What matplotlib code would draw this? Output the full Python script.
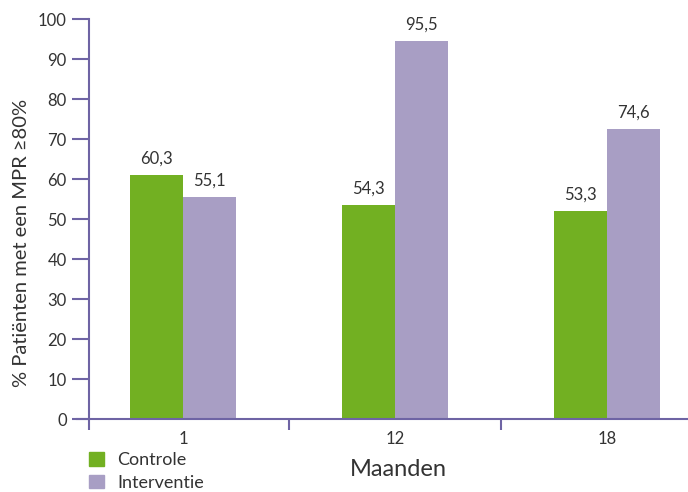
import matplotlib
matplotlib.use('Agg')
import matplotlib.pyplot as plt
from matplotlib.patches import Patch

months = ['1', '12', '18']
controle = [61.0, 53.5, 52.0]
interventie = [55.5, 94.5, 72.5]
controle_labels = ['60,3', '54,3', '53,3']
interventie_labels = ['55,1', '95,5', '74,6']
yticks = [0, 10, 20, 30, 40, 50, 60, 70, 80, 90, 100]

green = '#72b022'
purple = '#a89ec4'
axis_col = '#6e64a4'
text_col = '#333333'

plt.rcParams['font.family'] = ['Lato', 'DejaVu Sans']

fig = plt.figure(figsize=(6.88, 4.92), dpi=100)
ax = fig.add_axes([89 / 688, 73 / 492, 599 / 688, 400 / 492])

x = list(range(len(months)))
w = 0.25
b1 = ax.bar([i - w / 2 for i in x], controle, w, color=green)
b2 = ax.bar([i + w / 2 for i in x], interventie, w, color=purple)

for bars, labels in ((b1, controle_labels), (b2, interventie_labels)):
    for bar, lab in zip(bars, labels):
        ax.text(bar.get_x() + bar.get_width() / 2, bar.get_height() + 2.0, lab,
                ha='center', va='bottom', fontsize=12, color=text_col)

ax.set_xlim(-0.443, 2.382)
ax.set_ylim(0, 100)
ax.set_yticks(yticks)
ax.set_yticklabels([str(v) for v in yticks], fontsize=12, color=text_col)
ax.tick_params(axis='y', direction='out', length=12, width=1.5, color=axis_col, pad=4)

# category labels sit at bar centres, tick marks at group boundaries
ax.set_xticks([-0.443, 0.5, 1.5])
ax.set_xticklabels([])
ax.set_xticks(x, minor=True)
ax.set_xticklabels(months, minor=True, fontsize=12, color=text_col)
ax.tick_params(axis='x', which='major', direction='out', length=8, width=1.5, color=axis_col)
ax.tick_params(axis='x', which='minor', length=0, pad=9)

for s in ('top', 'right'):
    ax.spines[s].set_visible(False)
for s in ('left', 'bottom'):
    ax.spines[s].set_color(axis_col)
    ax.spines[s].set_linewidth(1.5)
ax.spines['bottom'].set_bounds(-0.443 - 12 / 212, 2.382)

ax.set_ylabel('% Patiënten met een MPR ≥80%', fontsize=14.5, color=text_col)
ax.yaxis.label.set_va('center')
ax.yaxis.set_label_coords(-67 / 599, 0.44)
ax.set_xlabel('Maanden', fontsize=17, color=text_col)
ax.xaxis.label.set_va('center')
ax.xaxis.set_label_coords((398 - 89) / 599, -50 / 400)

handles = [Patch(color=green, label='Controle'), Patch(color=purple, label='Interventie')]
fig.legend(handles=handles, loc='upper left', bbox_to_anchor=(89 / 688, 1 - 452 / 492),
           frameon=False, fontsize=13, handlelength=0.85, handleheight=0.8,
           handletextpad=0.7, labelspacing=0.35, borderpad=0, borderaxespad=0,
           labelcolor=text_col)

fig.savefig('out.png', dpi=100)
